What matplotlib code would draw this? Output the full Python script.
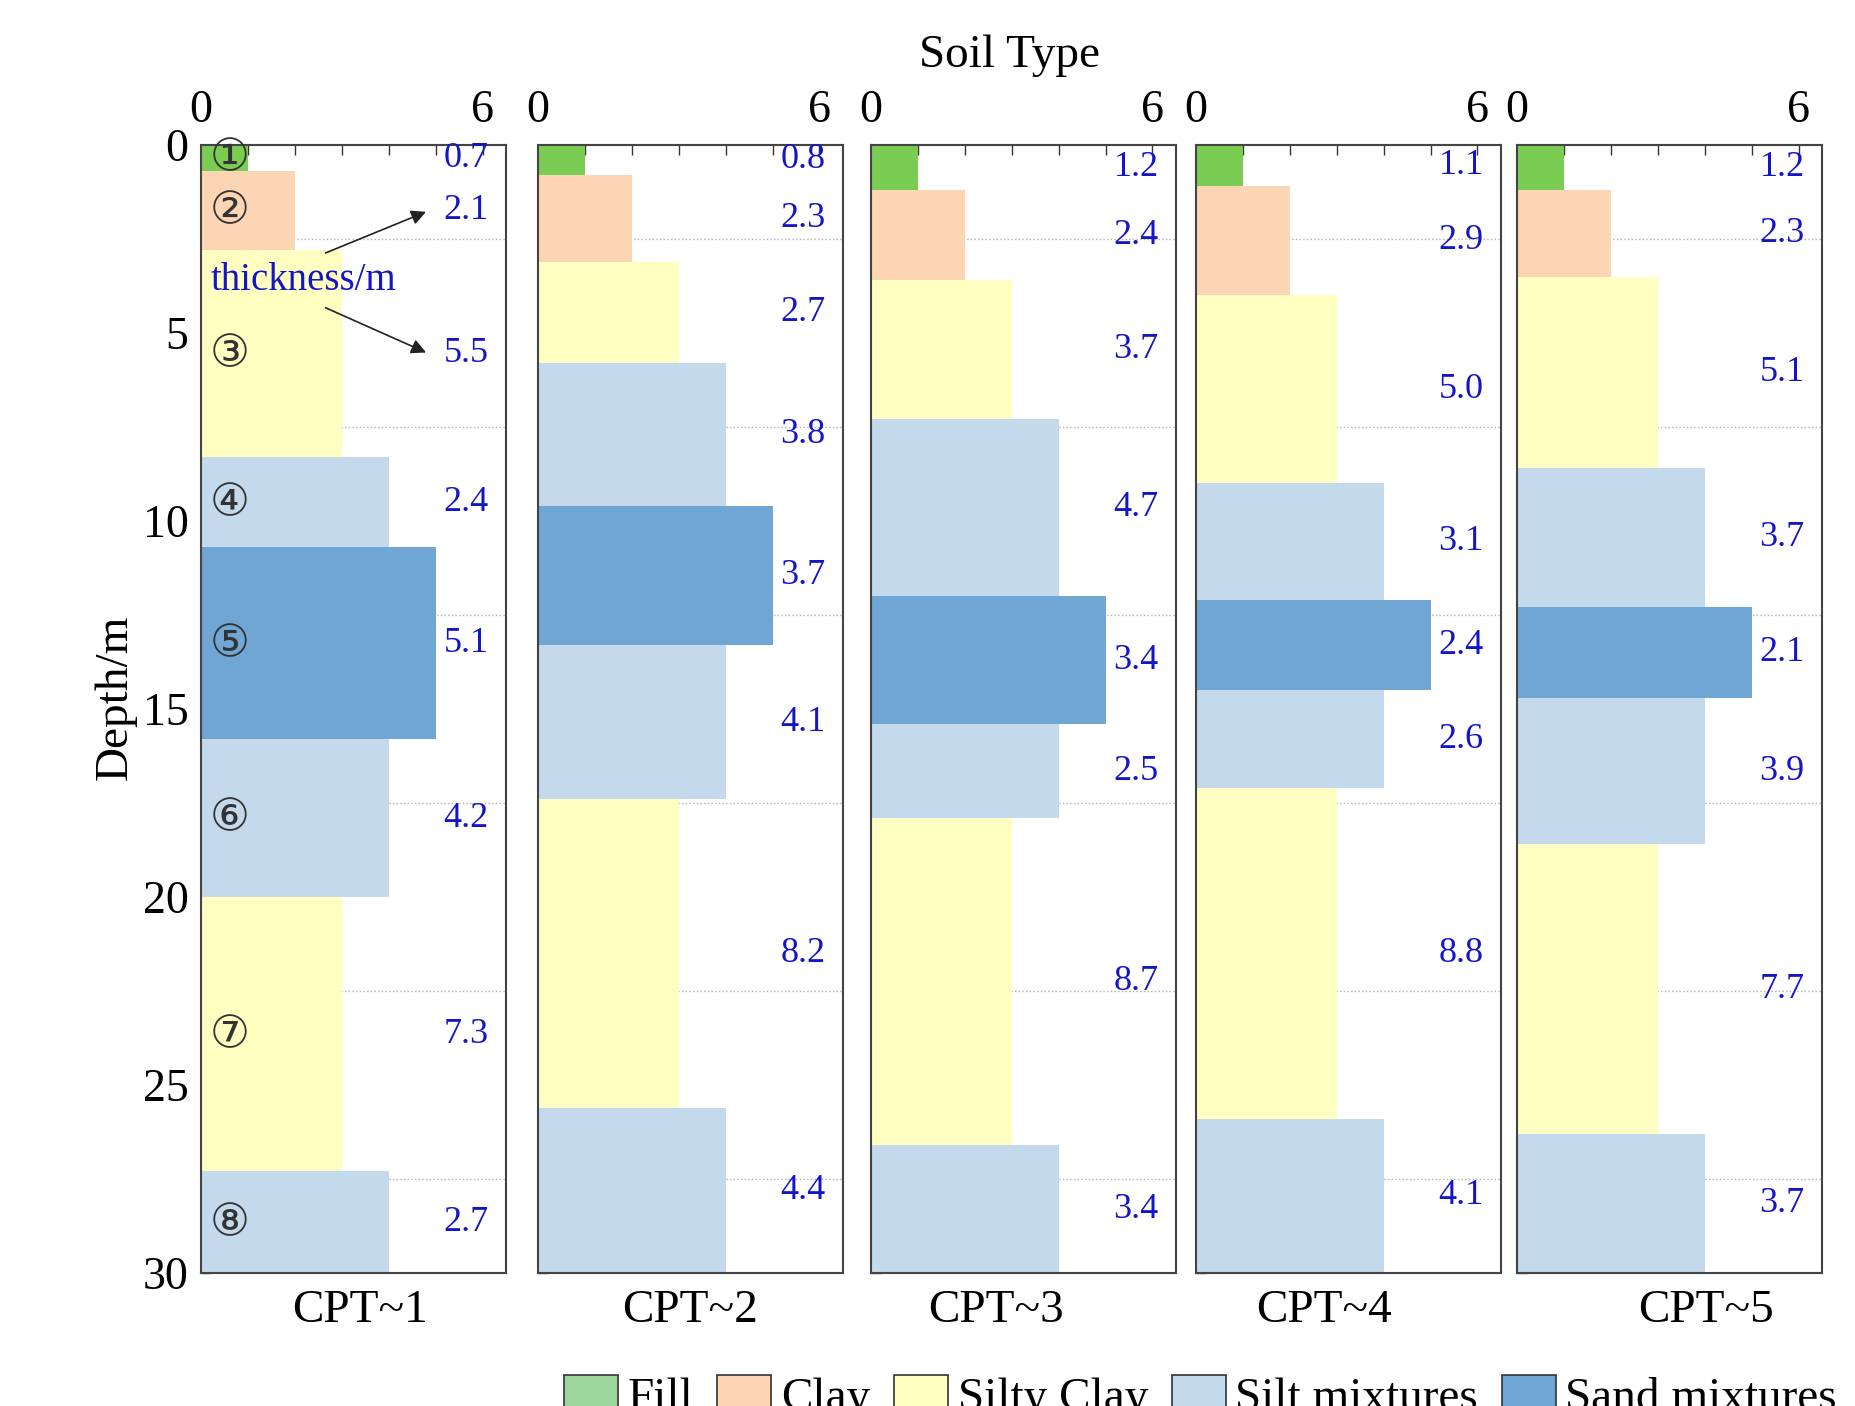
import matplotlib
matplotlib.use("Agg")
import matplotlib.pyplot as plt
from matplotlib.patches import Patch

plt.rcParams['font.family'] = ['Liberation Serif', 'DejaVu Sans']

# Soil classes (code 1..5 = bar length on the "Soil Type" axis)
soil_names = ["Fill", "Clay", "Silty Clay", "Silt mixtures", "Sand mixtures"]
bar_colors = ["#7acc52", "#fcd5b5", "#ffffc2", "#c5d9ec", "#6fa6d4"]
legend_colors = ["#9dd69a", "#fcd5b5", "#ffffc2", "#c5d9ec", "#6fa6d4"]

# Layer sequence, top to bottom (same in all five soundings)
layer_type = [1, 2, 3, 4, 5, 4, 3, 4]
layer_marks = ["①", "②", "③", "④", "⑤", "⑥", "⑦", "⑧"]

cpt_names = ["CPT~1", "CPT~2", "CPT~3", "CPT~4", "CPT~5"]

# Layer thickness (m)
thick_1 = [0.7, 2.1, 5.5, 2.4, 5.1, 4.2, 7.3, 2.7]
thick_2 = [0.8, 2.3, 2.7, 3.8, 3.7, 4.1, 8.2, 4.4]
thick_3 = [1.2, 2.4, 3.7, 4.7, 3.4, 2.5, 8.7, 3.4]
thick_4 = [1.1, 2.9, 5.0, 3.1, 2.4, 2.6, 8.8, 4.1]
thick_5 = [1.2, 2.3, 5.1, 3.7, 2.4, 3.9, 7.7, 3.7]  # sand drawn ~2.4 m in the figure
label_5 = ["1.2", "2.3", "5.1", "3.7", "2.1", "3.9", "7.7", "3.7"]  # as printed

thicknesses = [thick_1, thick_2, thick_3, thick_4, thick_5]
labels = [[f"{t:.1f}" for t in th] for th in thicknesses[:4]] + [label_5]

# layout
lefts = [0.1084, 0.2900, 0.4695, 0.6447, 0.8178]
width, bottom, height = 0.1644, 0.0946, 0.8023
xlabel_x = [0.52, 0.50, 0.41, 0.42, 0.62]
lab_x = 5.65
blue = "#1515c8"

fig = plt.figure(figsize=(18.55, 14.06), dpi=100)

for i, th in enumerate(thicknesses):
    ax = fig.add_axes([lefts[i], bottom, width, height])
    starts = [sum(th[:k]) for k in range(len(th))]
    mids = [s + t / 2 for s, t in zip(starts, th)]
    ax.barh(starts, layer_type, height=th, align="edge",
            color=[bar_colors[c - 1] for c in layer_type], linewidth=0, zorder=2)

    for m, txt in zip(mids, labels[i]):
        ax.text(lab_x, m, txt, color=blue, fontsize=26, ha="center", va="center", zorder=4)

    ax.set_xlim(0, 6.5)
    ax.set_ylim(30, 0)
    ax.xaxis.tick_top()
    ax.set_xticks(range(7))
    ax.set_xticklabels(["0", "", "", "", "", "", "6"])
    ax.set_yticks(range(0, 31, 5))
    ax.set_yticks([2.5 + 5 * k for k in range(6)], minor=True)
    ax.tick_params(direction="in", length=7, width=1, labelsize=33, colors="#333333",
                   labelcolor="black")
    ax.tick_params(axis="x", pad=9)
    ax.tick_params(axis="y", pad=9)
    ax.tick_params(axis="y", which="minor", length=0)
    ax.grid(True, which="minor", axis="y", linestyle=":", color="#b0b0b0", lw=1)
    ax.set_axisbelow(True)
    for sp in ax.spines.values():
        sp.set_color("#444444")
        sp.set_linewidth(1.5)

    if i > 0:
        ax.tick_params(axis="y", labelleft=False)
    else:
        ax.set_ylabel("Depth/m", fontsize=34)
        ax.yaxis.set_label_coords(-0.21, 0.51)
        for m, mk in zip(mids, layer_marks):
            ax.text(0.6, m, mk, fontsize=32, color="#333333", ha="center", va="center",
                    family=["DejaVu Sans"], zorder=4)
        ax.text(0.2, 3.6, "thickness/m", color=blue, fontsize=28, va="center", zorder=4)
        for k in (1, 2):
            ax.annotate("", xy=(lab_x - 0.8, mids[k]), xytext=(2.6, 3.6 + (k - 1.5) * 1.4),
                        arrowprops=dict(arrowstyle="-|>", color="#222222", lw=1.2,
                                        mutation_scale=22), zorder=5)

    ax.set_xlabel(cpt_names[i], fontsize=34)
    ax.xaxis.set_label_coords(xlabel_x[i], -0.015)

fig.text(0.544, 0.960, "Soil Type", ha="center", va="center", fontsize=34)

handles = [Patch(facecolor=c, edgecolor="#333333", lw=1.2) for c in legend_colors]
fig.legend(handles, soil_names, loc="center left", bbox_to_anchor=(0.304, 0.006),
           ncol=5, frameon=False, fontsize=34, handlelength=1.15, handleheight=0.8,
           handletextpad=0.2, columnspacing=0.5, borderpad=0, borderaxespad=0)

fig.savefig("out.png", dpi=100)
